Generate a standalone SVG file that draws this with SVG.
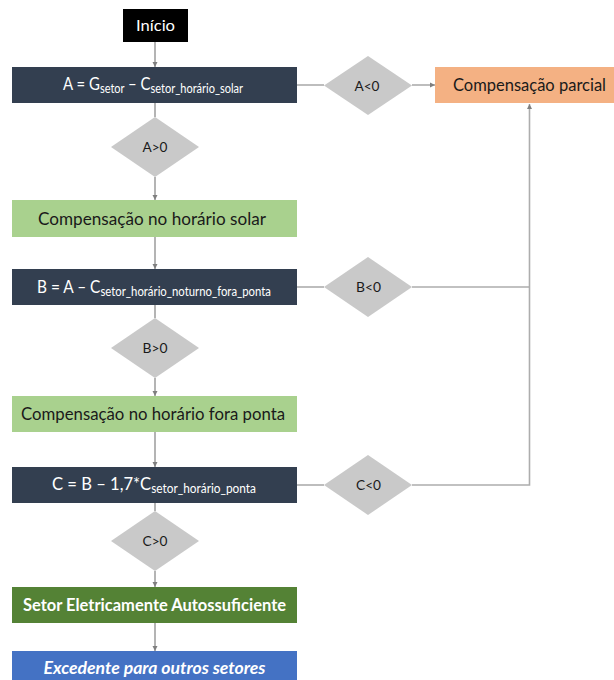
<svg xmlns="http://www.w3.org/2000/svg" width="614" height="680" viewBox="0 0 614 680">
<style>
  .t{font-family:Lato,"Open Sans","Liberation Sans",sans-serif;text-anchor:middle}
  .w{fill:#ffffff}
  .k{fill:#1a1a1a}
  .dk{fill:#333F50}
  .dia{fill:#C9C9C9}
  .c{stroke:#8C8C8C;stroke-width:1.3;fill:none}
  .r{stroke:#ADADAD;stroke-width:1.6;fill:none}
</style>
<defs>
  <marker id="ah" markerWidth="6" markerHeight="6" refX="5" refY="3" orient="auto" markerUnits="userSpaceOnUse">
    <path d="M0,0.5 L5,3 L0,5.5 Z" fill="#7F7F7F"/>
  </marker>
</defs>
<rect width="614" height="680" fill="#ffffff"/>
<g id="connectors">
  <line class="c" x1="155" y1="42" x2="155" y2="67" marker-end="url(#ah)"/>
  <line class="c" x1="155" y1="103" x2="155" y2="117"/>
  <line class="c" x1="155" y1="177" x2="155" y2="200" marker-end="url(#ah)"/>
  <line class="c" x1="155" y1="237" x2="155" y2="269" marker-end="url(#ah)"/>
  <line class="c" x1="155" y1="305" x2="155" y2="318"/>
  <line class="c" x1="155" y1="378" x2="155" y2="396" marker-end="url(#ah)"/>
  <line class="c" x1="155" y1="432" x2="155" y2="467" marker-end="url(#ah)"/>
  <line class="c" x1="155" y1="503" x2="155" y2="511"/>
  <line class="c" x1="155" y1="571" x2="155" y2="587" marker-end="url(#ah)"/>
  <line class="c" x1="155" y1="623" x2="155" y2="651" marker-end="url(#ah)"/>
  <line class="r" x1="297" y1="85" x2="324" y2="85"/>
  <line class="r" x1="412" y1="85" x2="435" y2="85" marker-end="url(#ah)"/>
  <line class="r" x1="297" y1="287" x2="324" y2="287"/>
  <line class="r" x1="412" y1="287" x2="529.5" y2="287"/>
  <line class="r" x1="297" y1="485" x2="324" y2="485"/>
  <polyline class="r" points="412,485 529.5,485 529.5,104" marker-end="url(#ah)"/>
</g>
<g id="inicio">
  <rect x="123" y="9" width="65" height="33" fill="#000000"/>
  <text class="t w" x="155.5" y="31" font-size="16" textLength="39" lengthAdjust="spacingAndGlyphs">Início</text>
</g>
<g id="calcA">
  <rect class="dk" x="12" y="67" width="285" height="36"/>
  <text class="t w" x="153" y="90" font-size="17" textLength="180" lengthAdjust="spacingAndGlyphs">A = G<tspan font-size="12.5" dy="3">setor</tspan><tspan dx="4" dy="-3">– C</tspan><tspan font-size="12.5" dy="3">setor_horário_solar</tspan></text>
</g>
<g id="decAneg">
  <polygon class="dia" points="368,56 412,85.5 368,115 324,85.5"/>
  <text class="t k" x="367" y="90.5" font-size="14" textLength="25" lengthAdjust="spacingAndGlyphs">A&lt;0</text>
</g>
<g id="parcial">
  <rect x="435" y="67" width="189" height="36" fill="#F4B183"/>
  <text class="t k" x="529.5" y="90.5" font-size="16.5" textLength="153" lengthAdjust="spacingAndGlyphs">Compensação parcial</text>
</g>
<g id="decApos">
  <polygon class="dia" points="155,117 199,147 155,177 111,147"/>
  <text class="t k" x="155" y="152" font-size="14" textLength="25" lengthAdjust="spacingAndGlyphs">A&gt;0</text>
</g>
<g id="solar">
  <rect x="12" y="200" width="285" height="37" fill="#A9D18E"/>
  <text class="t k" x="152" y="224.5" font-size="16.5" textLength="228" lengthAdjust="spacingAndGlyphs">Compensação no horário solar</text>
</g>
<g id="calcB">
  <rect class="dk" x="12" y="269" width="285" height="36"/>
  <text class="t w" x="154" y="293" font-size="17" textLength="234" lengthAdjust="spacingAndGlyphs">B = A – C<tspan font-size="12.5" dy="3">setor_horário_noturno_fora_ponta</tspan></text>
</g>
<g id="decBneg">
  <polygon class="dia" points="368,257 412,287 368,317 324,287"/>
  <text class="t k" x="368.5" y="292" font-size="14" textLength="25" lengthAdjust="spacingAndGlyphs">B&lt;0</text>
</g>
<g id="decBpos">
  <polygon class="dia" points="155,318 199,348 155,378 111,348"/>
  <text class="t k" x="155" y="353" font-size="14" textLength="25" lengthAdjust="spacingAndGlyphs">B&gt;0</text>
</g>
<g id="foraPonta">
  <rect x="12" y="396" width="285" height="36" fill="#A9D18E"/>
  <text class="t k" x="153" y="420" font-size="16.5" textLength="264" lengthAdjust="spacingAndGlyphs">Compensação no horário fora ponta</text>
</g>
<g id="calcC">
  <rect class="dk" x="12" y="467" width="285" height="36"/>
  <text class="t w" x="154" y="490" font-size="17.5" textLength="204" lengthAdjust="spacingAndGlyphs">C = B – 1,7*C<tspan font-size="12.5" dy="3">setor_horário_ponta</tspan></text>
</g>
<g id="decCneg">
  <polygon class="dia" points="368,455 412,485 368,515 324,485"/>
  <text class="t k" x="368.5" y="490" font-size="14" textLength="25" lengthAdjust="spacingAndGlyphs">C&lt;0</text>
</g>
<g id="decCpos">
  <polygon class="dia" points="155,511 199,541 155,571 111,541"/>
  <text class="t k" x="155" y="546" font-size="14" textLength="25" lengthAdjust="spacingAndGlyphs">C&gt;0</text>
</g>
<g id="autossuficiente">
  <rect x="12" y="587" width="285" height="36" fill="#548235"/>
  <text class="t w" x="154.5" y="611" font-size="16.5" font-weight="bold" textLength="263" lengthAdjust="spacingAndGlyphs">Setor Eletricamente Autossuficiente</text>
</g>
<g id="excedente">
  <rect x="12" y="651" width="285" height="36" fill="#4472C4"/>
  <text class="t w" x="154.5" y="674" font-size="16.5" font-weight="bold" font-style="italic" textLength="222" lengthAdjust="spacingAndGlyphs">Excedente para outros setores</text>
</g>
</svg>
